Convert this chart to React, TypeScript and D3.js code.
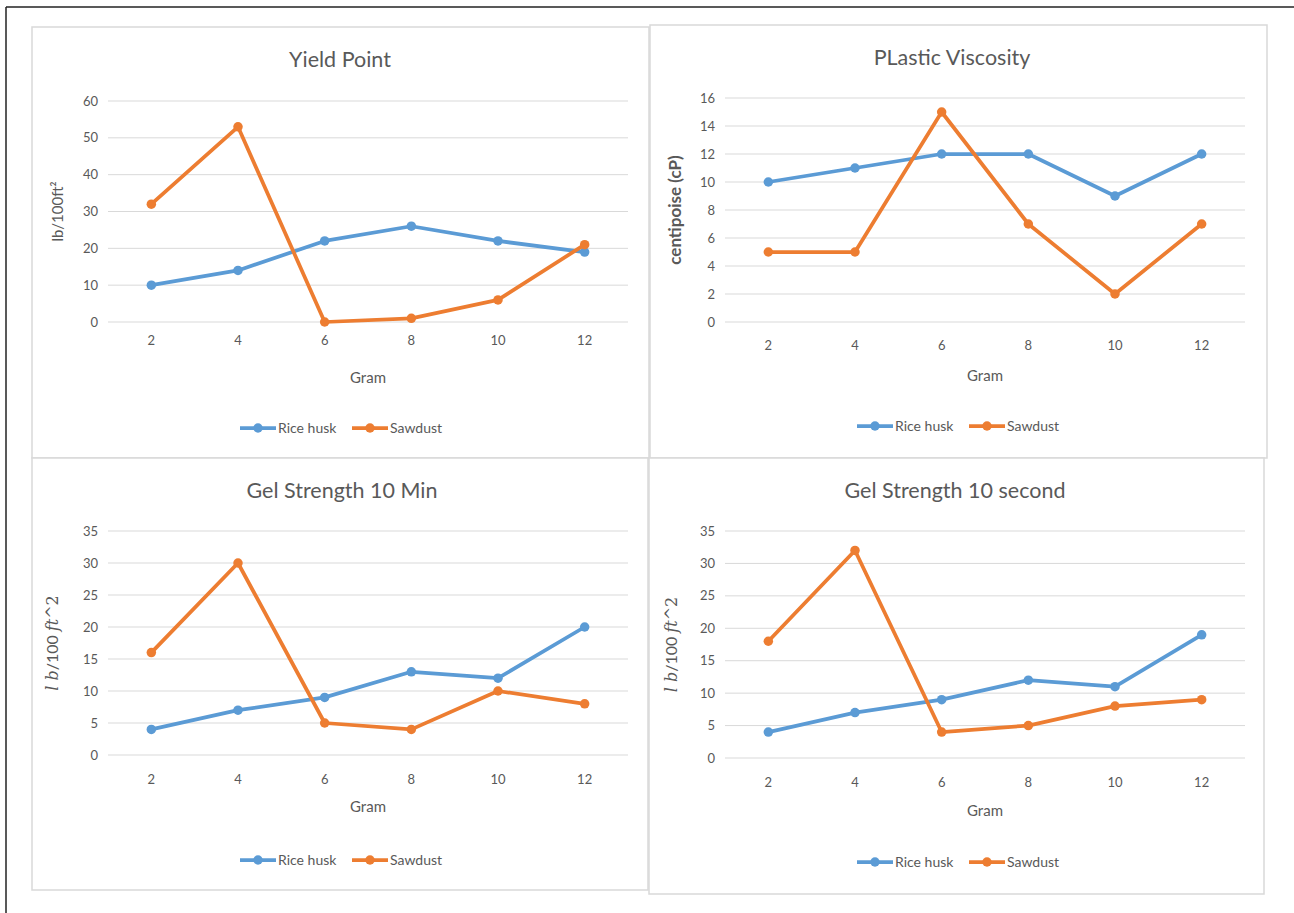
import React from "react";
import * as d3 from "d3";

// Shared category axis
const grams = [2, 4, 6, 8, 10, 12];
const seriesNames = ["Rice husk", "Sawdust"];
const seriesColors = ["#5B9BD5", "#ED7D31"];

// Yield Point (lb/100ft²)
const yieldRice = [10, 14, 22, 26, 22, 19];
const yieldSawdust = [32, 53, 0, 1, 6, 21];
const yieldTicks = [0, 10, 20, 30, 40, 50, 60];

// Plastic viscosity (cP)
const pvRice = [10, 11, 12, 12, 9, 12];
const pvSawdust = [5, 5, 15, 7, 2, 7];
const pvTicks = [0, 2, 4, 6, 8, 10, 12, 14, 16];

// Gel strength after 10 minutes
const gel10mRice = [4, 7, 9, 13, 12, 20];
const gel10mSawdust = [16, 30, 5, 4, 10, 8];
const gel10mTicks = [0, 5, 10, 15, 20, 25, 30, 35];

// Gel strength after 10 seconds
const gel10sRice = [4, 7, 9, 12, 11, 19];
const gel10sSawdust = [18, 32, 4, 5, 8, 9];
const gel10sTicks = [0, 5, 10, 15, 20, 25, 30, 35];

const FONT = "Lato, 'Open Sans', sans-serif";
const TEXT = "#595959";

type Panel = {
  title: string;
  yLabel: "lb" | "cp" | "gel";
  series: number[][];
  ticks: number[];
  box: [number, number, number, number]; // x0, y0, x1, y1
  plot: [number, number, number, number]; // left, top, right, bottom
  titleX: number;
  titleY: number;
  tickY: number;
  gramY: number;
  legendY: number;
  legendX: number;
  yLabelX: number;
};

const panels: Panel[] = [
  {
    title: "Yield Point",
    yLabel: "lb",
    series: [yieldRice, yieldSawdust],
    ticks: yieldTicks,
    box: [32, 27, 649, 458],
    plot: [108, 101, 628, 322],
    titleX: 340,
    titleY: 67,
    tickY: 345,
    gramY: 383,
    legendY: 428,
    legendX: 240,
    yLabelX: 63,
  },
  {
    title: "PLastic Viscosity",
    yLabel: "cp",
    series: [pvRice, pvSawdust],
    ticks: pvTicks,
    box: [650, 25, 1267, 458],
    plot: [725, 98, 1245, 322],
    titleX: 952,
    titleY: 65,
    tickY: 350,
    gramY: 381,
    legendY: 426,
    legendX: 857,
    yLabelX: 681,
  },
  {
    title: "Gel Strength 10 Min",
    yLabel: "gel",
    series: [gel10mRice, gel10mSawdust],
    ticks: gel10mTicks,
    box: [32, 458, 648, 890],
    plot: [108, 531, 628, 755],
    titleX: 342,
    titleY: 498,
    tickY: 784,
    gramY: 812,
    legendY: 860,
    legendX: 240,
    yLabelX: 58,
  },
  {
    title: "Gel Strength 10 second",
    yLabel: "gel",
    series: [gel10sRice, gel10sSawdust],
    ticks: gel10sTicks,
    box: [649, 458, 1264, 894],
    plot: [725, 531, 1245, 758],
    titleX: 955,
    titleY: 498,
    tickY: 787,
    gramY: 816,
    legendY: 862,
    legendX: 857,
    yLabelX: 677,
  },
];

function YLabel({ kind, x, y }: { kind: Panel["yLabel"]; x: number; y: number }) {
  const t = `translate(${x},${y}) rotate(-90)`;
  if (kind === "lb") {
    return (
      <text transform={t} textAnchor="middle" fontFamily={FONT} fontSize={15} fill={TEXT}>
        lb/100ft²
      </text>
    );
  }
  if (kind === "cp") {
    return (
      <text transform={t} textAnchor="middle" fontFamily={FONT} fontSize={17} fontWeight="bold" fill={TEXT}>
        centipoise (cP)
      </text>
    );
  }
  const serif = "'DejaVu Serif', 'Liberation Serif', serif";
  return (
    <text transform={t} textAnchor="middle" fontFamily={serif} fontSize={16} fill={TEXT}>
      <tspan fontStyle="italic">l</tspan>
      <tspan> </tspan>
      <tspan fontStyle="italic">b</tspan>
      <tspan fontFamily={FONT}>/100 </tspan>
      <tspan fontStyle="italic">ft</tspan>
      <tspan>^2</tspan>
    </text>
  );
}

function ChartPanel({ p }: { p: Panel }) {
  const [left, top, right, bottom] = p.plot;
  const x = d3.scaleBand<number>().domain(grams).range([left, right]);
  const y = d3
    .scaleLinear()
    .domain([p.ticks[0], p.ticks[p.ticks.length - 1]])
    .range([bottom, top]);
  const cx = (g: number) => (x(g) as number) + x.bandwidth() / 2;
  const line = d3
    .line<number>()
    .x((_, i) => cx(grams[i]))
    .y((v) => y(v));
  const [bx0, by0, bx1, by1] = p.box;
  const midX = (left + right) / 2;
  const midY = (top + bottom) / 2;

  return (
    <g>
      <rect x={bx0} y={by0} width={bx1 - bx0} height={by1 - by0} fill="#fff" stroke="#d9d9d9" strokeWidth={1.5} />
      <text x={p.titleX} y={p.titleY} textAnchor="middle" fontFamily={FONT} fontSize={21.5} fill={TEXT}>
        {p.title}
      </text>
      {p.ticks.map((t) => (
        <g key={t}>
          <line x1={left} x2={right} y1={y(t)} y2={y(t)} stroke="#d9d9d9" strokeWidth={1} />
          <text x={left - 10} y={y(t)} dy="0.35em" textAnchor="end" fontFamily={FONT} fontSize={13} fill={TEXT}>
            {t}
          </text>
        </g>
      ))}
      {grams.map((g) => (
        <text key={g} x={cx(g)} y={p.tickY} textAnchor="middle" fontFamily={FONT} fontSize={13} fill={TEXT}>
          {g}
        </text>
      ))}
      <text x={midX} y={p.gramY} textAnchor="middle" fontFamily={FONT} fontSize={15} fill={TEXT}>
        Gram
      </text>
      <YLabel kind={p.yLabel} x={p.yLabelX} y={midY} />
      {p.series.map((vals, si) => (
        <g key={si}>
          <path d={line(vals) || ""} fill="none" stroke={seriesColors[si]} strokeWidth={3.75} strokeLinejoin="round" strokeLinecap="round" />
          {vals.map((v, i) => (
            <circle key={i} cx={cx(grams[i])} cy={y(v)} r={4.75} fill={seriesColors[si]} />
          ))}
        </g>
      ))}
      {seriesNames.map((name, si) => {
        const lx = p.legendX + si * 112;
        return (
          <g key={name}>
            <line x1={lx} x2={lx + 36} y1={p.legendY} y2={p.legendY} stroke={seriesColors[si]} strokeWidth={3.75} />
            <circle cx={lx + 18} cy={p.legendY} r={4.75} fill={seriesColors[si]} />
            <text x={lx + 38} y={p.legendY} dy="0.35em" fontFamily={FONT} fontSize={14} fill={TEXT}>
              {name}
            </text>
          </g>
        );
      })}
    </g>
  );
}

export default function App() {
  return (
    <div style={{ position: "absolute", left: 0, top: 0 }}>
      <svg width={1294} height={913} style={{ display: "block" }}>
        <rect width={1294} height={913} fill="#fff" />
        <line x1={6} x2={1294} y1={7} y2={7} stroke="#222" strokeWidth={1.5} />
        <line x1={6} x2={6} y1={7} y2={913} stroke="#222" strokeWidth={1.5} />
        {panels.map((p) => (
          <ChartPanel key={p.title} p={p} />
        ))}
      </svg>
    </div>
  );
}
